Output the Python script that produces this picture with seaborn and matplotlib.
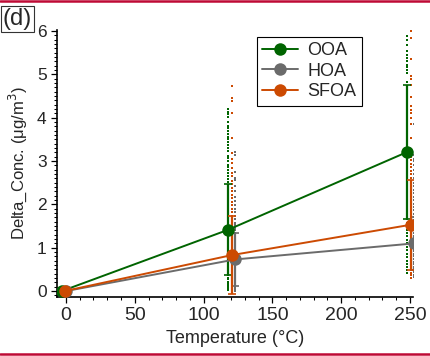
import numpy as np
import pandas as pd
import seaborn as sns
import matplotlib.pyplot as plt
from matplotlib.lines import Line2D
from matplotlib.ticker import MultipleLocator

# mean delta concentrations at each heating temperature
temps = [0, 120, 250]
ooa_mean = [0.0, 1.41, 3.21]
hoa_mean = [0.0, 0.73, 1.10]
sfoa_mean = [0.0, 0.83, 1.53]

# standard deviations (error bars)
ooa_sd = [0.0, 1.05, 1.55]
hoa_sd = [0.0, 0.62, 0.62]
sfoa_sd = [0.0, 0.90, 1.04]

ooa_120 = [0.02, 0.06, 0.1, 0.14, 0.18, 0.22, 0.27, 0.31, 0.36, 0.42, 0.5, 0.6, 0.75,
           0.9, 1.1, 1.3, 1.5, 1.7, 1.9, 2.1, 2.3, 2.45, 2.52, 2.58, 2.66, 2.72, 2.8,
           2.86, 2.92, 3.0, 3.06, 3.12, 3.24, 3.3, 3.36, 3.44, 3.5, 3.56, 3.62, 3.7,
           3.76, 3.82, 3.9, 4.02, 4.08, 4.14, 4.2]
hoa_120 = [0.0, 0.04, 0.08, 0.12, 0.16, 0.2, 0.25, 0.3, 0.35, 0.4, 0.45, 0.5, 0.55,
           0.6, 0.65, 0.7, 0.75, 0.8, 0.86, 0.92, 0.98, 1.04, 1.1, 1.16, 1.22, 1.28,
           1.34, 1.4, 1.46, 1.52, 1.58, 1.66, 1.74, 1.82, 1.9, 1.98, 2.08, 2.18, 2.3,
           2.42, 2.56, 2.62, 2.75, 3.15, 3.2]
sfoa_120 = [0.0, 0.05, 0.1, 0.15, 0.2, 0.26, 0.32, 0.38, 0.44, 0.5, 0.56, 0.62, 0.7,
            0.78, 0.86, 0.94, 1.02, 1.1, 1.18, 1.26, 1.34, 1.42, 1.5, 1.58, 1.66, 1.74,
            1.82, 1.9, 1.98, 2.06, 2.14, 2.22, 2.3, 2.38, 2.46, 2.55, 2.65, 2.72, 2.85,
            2.95, 3.05, 3.19, 3.53, 4.1, 4.38, 4.46, 4.73]
ooa_250 = [0.42, 0.48, 0.55, 0.62, 0.7, 0.78, 0.86, 0.94, 1.02, 1.1, 1.18, 1.26, 1.34,
           1.42, 1.5, 1.58, 1.66, 2.2, 3.0, 4.0, 4.82, 5.03, 5.1, 5.16, 5.22, 5.3,
           5.38, 5.45, 5.53, 5.68, 5.8, 5.89]
hoa_250 = [0.32, 0.38, 0.44, 0.5, 0.56, 0.62, 0.68, 0.74, 0.8, 0.86, 0.92, 0.98,
           1.04, 1.1, 1.16, 1.22, 1.28, 1.34, 1.4, 1.46, 1.52, 1.58, 1.64, 1.7, 1.78,
           1.86, 1.94, 2.02, 2.1, 2.18, 2.26, 2.34, 2.42, 2.5, 2.6, 2.7, 2.8, 2.9,
           3.0, 3.05, 3.14, 3.86]
sfoa_250 = [0.3, 0.36, 0.42, 0.48, 0.6, 1.0, 1.5, 2.0, 2.5, 2.62, 2.7, 2.78, 2.86,
            2.94, 3.02, 3.1, 3.2, 3.53, 3.86, 4.0, 4.11, 4.18, 4.27, 4.48, 4.75, 4.89,
            4.96, 5.36, 5.83, 6.0]

species = ["OOA", "HOA", "SFOA"]
colors = {"OOA": "#006400", "HOA": "#6b6b6b", "SFOA": "#cc4a02"}
dodge = {"OOA": [-3.0, -2.5, -2.0], "HOA": [0.0, 3.0, 3.0], "SFOA": [-1.0, 0.5, 0.5]}
means = {"OOA": ooa_mean, "HOA": hoa_mean, "SFOA": sfoa_mean}
sds = {"OOA": ooa_sd, "HOA": hoa_sd, "SFOA": sfoa_sd}
points = {"OOA": {120: ooa_120, 250: ooa_250},
          "HOA": {120: hoa_120, 250: hoa_250},
          "SFOA": {120: sfoa_120, 250: sfoa_250}}

rows = []
for sp in species:
    for i, t in enumerate(temps):
        for v in points[sp].get(t, []):
            rows.append({"species": sp, "x": t + dodge[sp][i], "value": v})
pts = pd.DataFrame(rows)

sns.set_theme(style="ticks")
plt.rcParams["font.family"] = ["Liberation Sans", "DejaVu Sans"]

fig = plt.figure(figsize=(4.3, 3.56), dpi=100)
ax = fig.add_axes([0.1326, 0.1666, 0.8279, 0.7485])

handles = []
for sp in species:
    c = colors[sp]
    xs = [t + d for t, d in zip(temps, dodge[sp])]
    sub = pts[pts["species"] == sp]
    sns.scatterplot(data=sub, x="x", y="value", color=c, s=4, marker="s",
                    linewidth=0, ax=ax, legend=False, zorder=2)
    ax.errorbar(xs, means[sp], yerr=sds[sp], fmt="none", ecolor=c, elinewidth=1.6,
                capsize=3, capthick=1.2, zorder=3)
    sns.lineplot(x=xs, y=means[sp], color=c, lw=1.4, marker="o", markersize=9,
                 markeredgewidth=0, ax=ax, legend=False, zorder=4)
    handles.append(Line2D([], [], color=c, lw=1.4, marker="o", markersize=9,
                          markeredgewidth=0, label=sp))

ax.set_xlim(-6.5, 252.2)
ax.set_ylim(-0.13, 6.02)
ax.xaxis.set_major_locator(MultipleLocator(50))
ax.xaxis.set_minor_locator(MultipleLocator(10))
ax.yaxis.set_major_locator(MultipleLocator(1))
ax.yaxis.set_minor_locator(MultipleLocator(0.1))
ax.tick_params(which="major", length=4.5, width=0.9, color="black", pad=3)
ax.tick_params(which="minor", length=2.3, width=0.75, color="black")
ax.tick_params(axis="x", labelsize=14)
ax.tick_params(axis="y", labelsize=12.5)
for s in ["top", "right"]:
    ax.spines[s].set_visible(False)
for s in ["left", "bottom"]:
    ax.spines[s].set_linewidth(1.2)
    ax.spines[s].set_color("black")

ax.set_xlabel("Temperature (°C)", fontsize=13)
ax.set_ylabel("Delta_Conc. (μg/m$^3$)", fontsize=12)
ax.xaxis.set_label_coords(0.5, -0.125)
ax.yaxis.set_label_coords(-0.079, 0.5)

leg = ax.legend(handles=handles, loc="upper left", bbox_to_anchor=(0.561, 0.976),
                borderaxespad=0, fontsize=13, handlelength=2.0, handletextpad=0.5,
                labelspacing=0.2, borderpad=0.3, fancybox=False, framealpha=1)
leg.get_frame().set_edgecolor("black")
leg.get_frame().set_linewidth(0.8)

fig.text(0.006, 1 - 8 / 356, "(d)", fontsize=17, va="top", ha="left",
         bbox=dict(boxstyle="square,pad=0.08", fc="white", ec="#333333", lw=0.8))

# crimson page rules
fig.add_artist(Line2D([0, 1], [1 - 1 / 356, 1 - 1 / 356], color="#be0a35", lw=1.8))
fig.add_artist(Line2D([0, 1], [2 / 356, 2 / 356], color="#be0a35", lw=1.8))

fig.savefig("out.png", dpi=100)
